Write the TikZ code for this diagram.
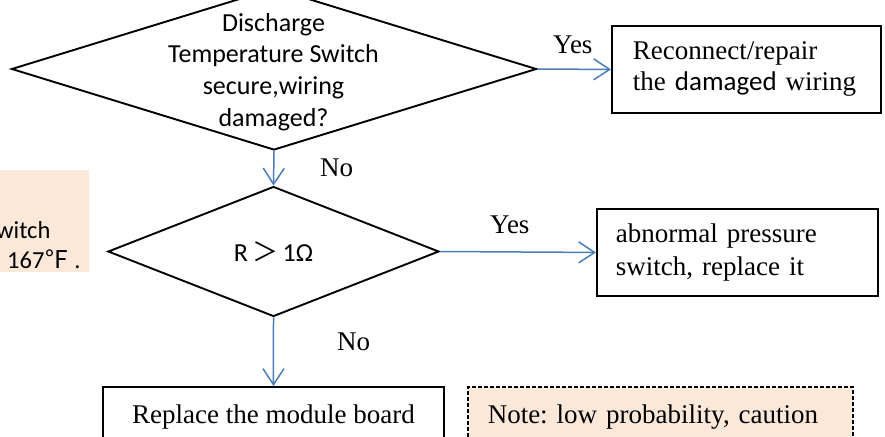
\documentclass[tikz,border=0pt]{standalone}
\usepackage{fontspec}
\setmainfont{Liberation Serif}
\newfontfamily\calfont{Carlito}
\newfontfamily\cjkfont{Noto Sans CJK SC}
\usetikzlibrary{shapes.geometric,arrows.meta}
\definecolor{arrowblue}{HTML}{4A7EBB}
\definecolor{notefill}{HTML}{FCE8D9}
\frenchspacing
\tikzset{
  dia/.style={diamond, draw=black, line width=1.9pt, inner sep=0pt},
  box/.style={rectangle, draw=black, line width=1.9pt, inner ysep=0pt},
  notebox/.style={rectangle, draw=black, fill=notefill, line width=1.5pt, dash pattern=on 4pt off 2pt, inner ysep=0pt},
  arr/.style={draw=arrowblue, line width=1.5pt, -{Straight Barb[length=16pt,width=21pt]}},
  sertxt/.style={font=\fontsize{27}{31}\selectfont},
  caltxt/.style={font=\calfont\fontsize{26}{31.7}\selectfont, inner sep=0pt},
  lbl/.style={font=\fontsize{27}{31}\selectfont, inner sep=0pt, anchor=base west}
}
\begin{document}
\begin{tikzpicture}[x=1pt,y=-1pt]
\clip (0,0) rectangle (885,436);
\fill[white] (0,0) rectangle (885,436);
% left partial note
\node[fill=notefill, minimum width=89pt, minimum height=102pt, inner sep=0pt, anchor=north west] (lbox) at (0,170) {};
\node[font=\calfont\fontsize{24.5}{30}\selectfont, inner sep=0pt, align=left, anchor=north west] (ltxt) at (-4,221) {witch\\\hspace*{11pt}167{\cjkfont ℉} .};
% decision 1
\node[dia, minimum width=525pt, minimum height=162pt] (d1) at (274,69) {};
\node[caltxt, align=center, anchor=north] (d1t) at (273.5,13) {Discharge\\Temperature Switch\\secure,wiring\\damaged?};
% decision 2
\node[dia, minimum width=331pt, minimum height=130pt] (d2) at (273.5,251.5) {};
\node[caltxt, anchor=base] (d2t) at (273.5,261) {R\,{\cjkfont ＞}\,1Ω};
% boxes
\node[box, sertxt, minimum height=87pt, inner xsep=21pt, text width=227pt, align=left, anchor=north west] (b1) at (611,25) {Reconnect/repair\\the {\calfont damaged} wiring};
\node[box, font=\fontsize{27}{33}\selectfont, minimum height=87pt, inner xsep=19pt, text width=243pt, align=left, anchor=north west] (b2) at (596,208) {abnormal pressure\\switch, replace it};
\node[box, sertxt, minimum height=60pt, minimum width=341pt, align=center, anchor=north west] (b3) at (102,386) {Replace the module board};
\node[notebox, sertxt, minimum height=60pt, inner xsep=20pt, text width=345pt, align=left, anchor=north west] (note) at (467,386) {Note: low probability, caution};
% connectors
\draw[arr] (d1.east) -- (b1.west);
\draw[arr] (d1.south) -- (d2.north);
\draw[arr] (d2.east) -- (b2.west);
\draw[arr] (d2.south) -- (b3.north);
% labels
\node[lbl] (y1) at (553,53) {Yes};
\node[lbl] (n1) at (320,176) {No};
\node[lbl] (y2) at (490,233) {Yes};
\node[lbl] (n2) at (337,350) {No};
\end{tikzpicture}
\end{document}
